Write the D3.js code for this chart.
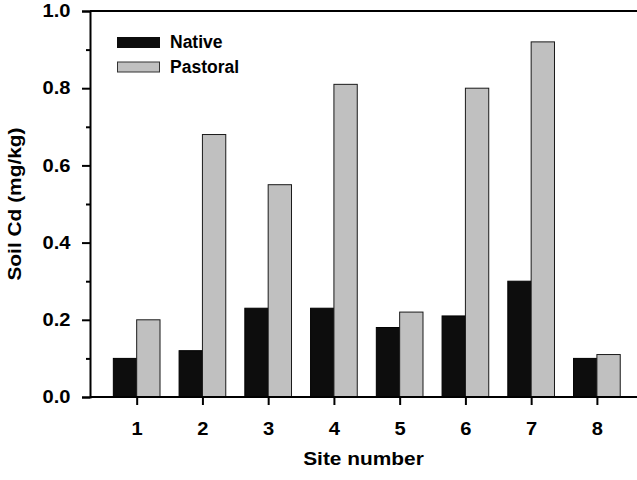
<!DOCTYPE html>
<html>
<head>
<meta charset="utf-8">
<script src="https://cdn.jsdelivr.net/npm/d3@7"></script>
<style>
  body { margin: 0; background: #fff; }
  svg { display: block; font-family: "Liberation Sans", Arial, sans-serif; font-weight: bold; }
</style>
</head>
<body>
<div id="chart"></div>
<script>
const sites = [1, 2, 3, 4, 5, 6, 7, 8];
const native = [0.10, 0.12, 0.23, 0.23, 0.18, 0.21, 0.30, 0.10];
const pastoral = [0.20, 0.68, 0.55, 0.81, 0.22, 0.80, 0.92, 0.11];
const yMajor = [0, 0.2, 0.4, 0.6, 0.8, 1.0];
const yMinor = [0.1, 0.3, 0.5, 0.7, 0.9];

const W = 637, H = 480;
const plot = { left: 90, right: 637, top: 11, bottom: 397 };
const stretch = 1.15; // the original lettering is a bit wider than Arial

const svg = d3.select('#chart').append('svg')
  .attr('width', W)
  .attr('height', H);

// x as a continuous site scale so the plot runs off the right edge like the original
const x = d3.scaleLinear().domain([0.29, 8.61]).range([plot.left, plot.right]);
const y = d3.scaleLinear().domain([0, 1]).range([plot.bottom, plot.top]);
const bw = x(1.355) - x(1);

// bars
svg.append('g').selectAll('rect')
  .data(sites)
  .join('rect')
  .attr('x', (d) => x(d) - bw)
  .attr('y', (d, i) => y(native[i]))
  .attr('width', bw)
  .attr('height', (d, i) => y(0) - y(native[i]))
  .attr('fill', '#0d0d0d')
  .attr('stroke', '#000')
  .attr('stroke-width', 1);

svg.append('g').selectAll('rect')
  .data(sites)
  .join('rect')
  .attr('x', (d) => x(d))
  .attr('y', (d, i) => y(pastoral[i]))
  .attr('width', bw)
  .attr('height', (d, i) => y(0) - y(pastoral[i]))
  .attr('fill', '#c0c0c0')
  .attr('stroke', '#1a1a1a')
  .attr('stroke-width', 1);

// top frame line
svg.append('line')
  .attr('x1', plot.left).attr('x2', plot.right)
  .attr('y1', y(1)).attr('y2', y(1))
  .attr('stroke', '#000')
  .attr('stroke-width', 2);

// y axis
const yAxis = svg.append('g')
  .attr('transform', `translate(${plot.left},0)`)
  .call(d3.axisLeft(y).tickValues(yMajor).tickSize(8)
    .tickFormat(d3.format('.1f')));

svg.append('g')
  .attr('transform', `translate(${plot.left},0)`)
  .call(d3.axisLeft(y).tickValues(yMinor).tickSize(4).tickFormat(''))
  .call((g) => g.select('.domain').remove());

// x axis
const xAxis = svg.append('g')
  .attr('transform', `translate(0,${plot.bottom})`)
  .call(d3.axisBottom(x).tickValues(sites).tickSize(8).tickPadding(18)
    .tickFormat(d3.format('d')));

svg.selectAll('.domain').attr('stroke', '#000').attr('stroke-width', 2);
svg.selectAll('.tick line').attr('stroke', '#000').attr('stroke-width', 2);
svg.selectAll('.tick text')
  .attr('fill', '#000')
  .attr('transform', `scale(${stretch},1)`)
  .style('font-size', '17.5px')
  .style('font-weight', 'bold')
  .style('font-family', '"Liberation Sans", Arial, sans-serif');
yAxis.selectAll('.tick text').attr('x', -19.5 / stretch);
xAxis.select('.domain').attr('d', `M${plot.left},0H${plot.right}`);

// axis titles
svg.append('text')
  .attr('transform', `translate(${(plot.left + plot.right) / 2},465) scale(1.13,1)`)
  .attr('text-anchor', 'middle')
  .style('font-size', '18.5px')
  .text('Site number');

svg.append('text')
  .attr('transform', `translate(21,${(plot.top + plot.bottom) / 2}) rotate(-90) scale(1.13,1)`)
  .attr('text-anchor', 'middle')
  .style('font-size', '18.5px')
  .text('Soil Cd (mg/kg)');

// legend
const legendItems = [
  { label: 'Native', fill: '#0d0d0d', stroke: '#0d0d0d' },
  { label: 'Pastoral', fill: '#c0c0c0', stroke: '#333' }
];

const legend = svg.append('g')
  .attr('transform', 'translate(117,37)');

legend.selectAll('g')
  .data(legendItems)
  .join('g')
  .attr('transform', (d, i) => `translate(0,${i * 24.5})`)
  .each(function (d) {
    const g = d3.select(this);
    g.append('rect')
      .attr('x', 0.5).attr('y', 0.5)
      .attr('width', 42)
      .attr('height', 10)
      .attr('fill', d.fill)
      .attr('stroke', d.stroke)
      .attr('stroke-width', 1);
    g.append('text')
      .attr('x', 53)
      .attr('y', 11)
      .style('font-size', '17.5px')
      .text(d.label);
  });
</script>
</body>
</html>
